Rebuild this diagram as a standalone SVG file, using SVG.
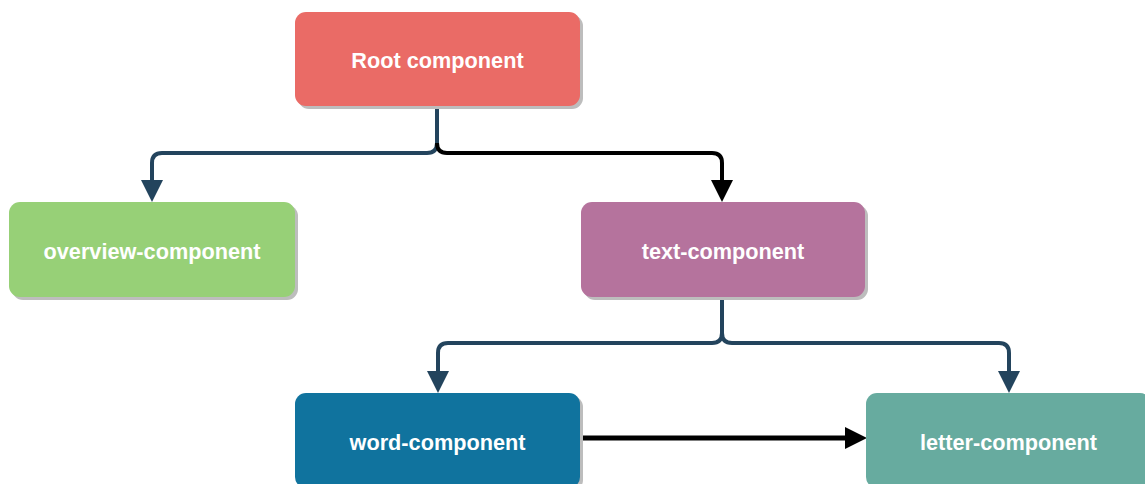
<svg xmlns="http://www.w3.org/2000/svg" width="1145" height="484" viewBox="0 0 1145 484">
<style>
.shadow{fill:#bdbdbd}
.lbl{font-family:"Liberation Sans",Arial,Helvetica,sans-serif;font-weight:bold;font-size:21.7px;fill:#ffffff;text-anchor:middle}
.edge{fill:none;stroke-width:4}
.blue{stroke:#23445D}
.black{stroke:#000000}
</style>
<defs>
<marker id="ahBlue" markerUnits="userSpaceOnUse" markerWidth="22" markerHeight="22" refX="0" refY="11" orient="auto" viewBox="0 0 22 22">
<path d="M0,0 L22,11 L0,22 z" fill="#23445D"/>
</marker>
<marker id="ahBlack" markerUnits="userSpaceOnUse" markerWidth="22" markerHeight="22" refX="0" refY="11" orient="auto" viewBox="0 0 22 22">
<path d="M0,0 L22,11 L0,22 z" fill="#000000"/>
</marker>
</defs>
<g id="connectors">
<path class="edge blue" d="M437,106 L437,143 Q437,153 427,153 L162,153 Q152,153 152,163 L152,180" marker-end="url(#ahBlue)"/>
<path class="edge black" d="M437,143 Q437,153 447,153 L712,153 Q722,153 722,163 L722,180" marker-end="url(#ahBlack)"/>
<path class="edge blue" d="M722,297 L722,333 Q722,343 712,343 L448,343 Q438,343 438,353 L438,371" marker-end="url(#ahBlue)"/>
<path class="edge blue" d="M722,333 Q722,343 732,343 L999,343 Q1009,343 1009,353 L1009,371" marker-end="url(#ahBlue)"/>
<path class="edge black" style="stroke-width:5" d="M581,438 L845,438" marker-end="url(#ahBlack)"/>
</g>
<g id="root">
<rect class="shadow" x="298" y="15" width="285" height="94" rx="11"/>
<rect x="295" y="12" width="285" height="94" rx="11" fill="#EA6B66"/>
<text class="lbl" x="437.5" y="67.5">Root component</text>
</g>
<g id="overview">
<rect class="shadow" x="12" y="205" width="286" height="95" rx="11"/>
<rect x="9" y="202" width="286" height="95" rx="11" fill="#97D077"/>
<text class="lbl" x="152" y="258.5">overview-component</text>
</g>
<g id="text">
<rect class="shadow" x="584" y="205" width="284" height="95" rx="11"/>
<rect x="581" y="202" width="284" height="95" rx="11" fill="#B5739D"/>
<text class="lbl" x="723" y="258.5">text-component</text>
</g>
<g id="word">
<rect class="shadow" x="298" y="396" width="285" height="95" rx="11"/>
<rect x="295" y="393" width="285" height="95" rx="11" fill="#10739E"/>
<text class="lbl" x="437.5" y="449.5">word-component</text>
</g>
<g id="letter">
<rect class="shadow" x="869" y="396" width="285" height="95" rx="11"/>
<rect x="866" y="393" width="285" height="95" rx="11" fill="#67AB9F"/>
<text class="lbl" x="1008.5" y="449.5">letter-component</text>
</g>
</svg>
